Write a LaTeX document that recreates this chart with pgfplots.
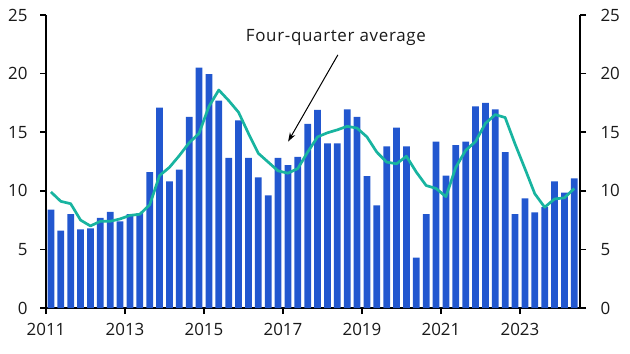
\documentclass[border=0pt]{standalone}
\usepackage{pgfplots}
\pgfplotsset{compat=1.18}
\usepackage{pgfplotstable}
\usepackage{fontspec}
\setmainfont{Open Sans}
\usetikzlibrary{arrows.meta}
\definecolor{barblue}{RGB}{34,87,207}
\definecolor{avgteal}{RGB}{24,180,160}

\pgfplotstableread{
x bar avg
2011.125 8.4 9.9
2011.375 6.6 9.1
2011.625 8.0 8.9
2011.875 6.7 7.5
2012.125 6.8 7.0
2012.375 7.7 7.4
2012.625 8.2 7.4
2012.875 7.4 7.6
2013.125 8.0 7.9
2013.375 8.1 8.0
2013.625 11.6 8.8
2013.875 17.1 11.3
2014.125 10.8 12.0
2014.375 11.8 13.0
2014.625 16.3 14.1
2014.875 20.5 14.9
2015.125 19.95 17.2
2015.375 17.7 18.6
2015.625 12.8 17.7
2015.875 16.0 16.7
2016.125 12.8 14.9
2016.375 11.15 13.2
2016.625 9.6 12.45
2016.875 12.8 11.7
2017.125 12.2 11.5
2017.375 12.9 11.9
2017.625 15.7 13.3
2017.875 16.9 14.6
2018.125 14.05 14.95
2018.375 14.05 15.2
2018.625 16.95 15.5
2018.875 16.3 15.35
2019.125 11.25 14.6
2019.375 8.75 13.3
2019.625 13.8 12.45
2019.875 15.4 12.3
2020.125 13.8 12.95
2020.375 4.3 11.6
2020.625 8.0 10.45
2020.875 14.2 10.2
2021.125 11.3 9.5
2021.375 13.9 12.0
2021.625 14.2 13.45
2021.875 17.2 14.2
2022.125 17.5 15.75
2022.375 16.95 16.5
2022.625 13.3 16.25
2022.875 8.0 14.0
2023.125 9.35 11.9
2023.375 8.15 9.75
2023.625 8.6 8.6
2023.875 10.8 9.3
2024.125 9.85 9.4
2024.375 11.05 10.2
}\data

\begin{document}
\begin{tikzpicture}
\path[use as bounding box] (-46bp,-46bp) rectangle (584bp,308bp);
\pgfplotsset{common/.style={
 scale only axis, width=534bp, height=293bp, at={(0,0)}, anchor=south west,
 xmin=2011, xmax=2024.52, ymin=0, ymax=25,
 ytick={0,5,...,25}, xtick={2011,2013,...,2023},
 tick align=outside, major tick length=6bp,
 every tick/.style={black, line width=1.5bp},
 axis line style={-, line width=2.5bp},
 ticklabel style={font=\fontsize{17}{17}\selectfont, text=black!90},
 /pgf/number format/assume math mode=true,
 xticklabel style={/pgf/number format/1000 sep=, yshift=-6bp},
 clip=false,
}}
\begin{axis}[common, axis x line*=bottom, axis y line*=left, yticklabel style={xshift=-9bp}]
\addplot[ybar, bar width=0.17, fill=barblue, draw=none] table[x=x,y=bar]{\data};
\addplot[avgteal, line width=2.7bp, line join=round] table[x=x,y=avg]{\data};
\draw[-{Stealth[length=9bp,width=6bp]}, line width=1bp] (axis cs:2018.39,21.6) -- (axis cs:2017.13,14.2);
\node[font=\fontsize{17}{17}\selectfont\addfontfeatures{LetterSpace=4}, text=black!90] at (axis cs:2018.34,23.04) {Four-quarter average};
\end{axis}
\begin{axis}[common, axis x line=none, axis y line*=right, yticklabel style={xshift=11bp}]
\end{axis}
\end{tikzpicture}
\end{document}
